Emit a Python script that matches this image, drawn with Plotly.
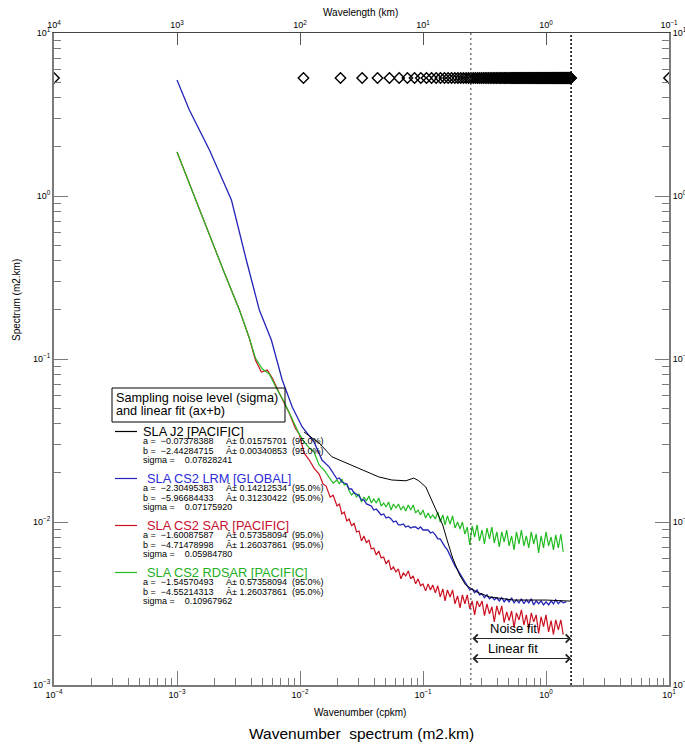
import numpy as np
import plotly.graph_objects as go

# ---------------------------------------------------------------------------
# Wavenumber spectra of sea level anomaly (SLA), J2 vs CryoSat-2 modes
# ---------------------------------------------------------------------------

# Common high-wavenumber sampling (cpkm) used for the CS2 spectra
K_HF = [0.0200, 0.0209, 0.0219, 0.0229, 0.0240, 0.0251, 0.0263, 0.0275, 0.0288, 0.0302,
        0.0316, 0.0331, 0.0347, 0.0363, 0.0380, 0.0398, 0.0417, 0.0437, 0.0457, 0.0479,
        0.0501, 0.0525, 0.0550, 0.0575, 0.0603, 0.0631, 0.0661, 0.0692, 0.0724, 0.0759,
        0.0794, 0.0832, 0.0871, 0.0912, 0.0955, 0.100, 0.105, 0.110, 0.115, 0.120,
        0.126, 0.132, 0.138, 0.145, 0.151, 0.158, 0.166, 0.174, 0.182, 0.191,
        0.200, 0.209, 0.219, 0.229, 0.240, 0.251, 0.263, 0.275, 0.288, 0.302,
        0.316, 0.331, 0.347, 0.363, 0.380, 0.398, 0.417, 0.437, 0.457, 0.479,
        0.501, 0.525, 0.550, 0.575, 0.603, 0.631, 0.661, 0.692, 0.724, 0.759,
        0.794, 0.832, 0.871, 0.912, 0.955, 1.00, 1.05, 1.10, 1.15, 1.20,
        1.26, 1.32, 1.38]

# SLA CS2 SAR [PACIFIC]
SAR_K_LF = [0.001, 0.00152, 0.00243, 0.00322, 0.00387, 0.00434, 0.00485, 0.00542, 0.00595,
            0.00678, 0.00817, 0.00914, 0.00984, 0.0108, 0.0119, 0.0130, 0.0143, 0.0154,
            0.0163, 0.0176, 0.0186]
SAR_S_LF = [1.862, 0.821, 0.337, 0.1999, 0.1345, 0.0986, 0.0832, 0.0857, 0.0764,
            0.0618, 0.0466, 0.0377, 0.0347, 0.0265, 0.0240, 0.0214, 0.0197, 0.0171,
            0.0166, 0.0142, 0.0146]
SAR_S_HF = [0.01254, 0.01290, 0.01120, 0.01152, 0.01015, 0.01044, 0.00945, 0.00986, 0.00869, 0.00881,
            0.00765, 0.00821, 0.00744, 0.00776, 0.00683, 0.00693, 0.00628, 0.00664, 0.00602, 0.00610,
            0.00553, 0.00585, 0.00508, 0.00530, 0.00494, 0.00515, 0.00448, 0.00487, 0.00467, 0.00501,
            0.00448, 0.00467, 0.00417, 0.00448, 0.00406, 0.00417, 0.00378, 0.00417, 0.00383, 0.00411,
            0.00368, 0.00406, 0.00347, 0.00389, 0.00328, 0.00383, 0.00347, 0.00383, 0.00315, 0.00352,
            0.00297, 0.00357, 0.00315, 0.00357, 0.00293, 0.00328, 0.00269, 0.00328, 0.00302, 0.00328,
            0.00266, 0.00315, 0.00273, 0.00302, 0.00244, 0.00306, 0.00269, 0.00306, 0.00241, 0.00281,
            0.00248, 0.00285, 0.00225, 0.00277, 0.00251, 0.00289, 0.00234, 0.00269, 0.00221, 0.00277,
            0.00244, 0.00269, 0.00207, 0.00262, 0.00228, 0.00269, 0.00212, 0.00248, 0.00204, 0.00251,
            0.00218, 0.00251, 0.00204]

# SLA CS2 RDSAR [PACIFIC]
RDSAR_K_LF = [0.001, 0.00152, 0.00243, 0.00322, 0.00387, 0.00434, 0.00494, 0.00563, 0.00641,
              0.00745, 0.00865, 0.00984, 0.0108, 0.0119, 0.0130, 0.0143, 0.0157, 0.0173, 0.0186]
RDSAR_S_LF = [1.862, 0.821, 0.337, 0.1999, 0.1345, 0.1014, 0.0868, 0.0809, 0.0664,
              0.0545, 0.0423, 0.0347, 0.0310, 0.0285, 0.0269, 0.0224, 0.0208, 0.0186, 0.0173]
RDSAR_S_HF = [0.01810, 0.01711, 0.01836, 0.01687, 0.01711, 0.01550, 0.01465, 0.01528, 0.01424, 0.01486,
              0.01327, 0.01424, 0.01346, 0.01444, 0.01308, 0.01384, 0.01308, 0.01404, 0.01254, 0.01308,
              0.01236, 0.01327, 0.01185, 0.01290, 0.01219, 0.01290, 0.01185, 0.01254, 0.01168, 0.01272,
              0.01185, 0.01272, 0.01136, 0.01185, 0.01104, 0.01185, 0.01058, 0.01136, 0.01058, 0.01104,
              0.01044, 0.01152, 0.01000, 0.01104, 0.00959, 0.01089, 0.00972, 0.01089, 0.00919, 0.01000,
              0.00906, 0.01000, 0.00844, 0.00932, 0.00723, 0.00945, 0.00809, 0.00959, 0.00765, 0.00893,
              0.00733, 0.00919, 0.00787, 0.00932, 0.00744, 0.00869, 0.00703, 0.00869, 0.00754, 0.00893,
              0.00713, 0.00821, 0.00674, 0.00869, 0.00733, 0.00893, 0.00713, 0.00821, 0.00693, 0.00869,
              0.00733, 0.00844, 0.00646, 0.00821, 0.00693, 0.00869, 0.00713, 0.00809, 0.00674, 0.00833,
              0.00693, 0.00844, 0.00655]

# SLA CS2 LRM [GLOBAL]
LRM_K_LF = [0.001, 0.00126, 0.00184, 0.00277, 0.00366, 0.00467, 0.00585, 0.00717, 0.00865,
            0.01042, 0.0130, 0.0151, 0.0173]
LRM_S_LF = [5.15, 3.37, 1.91, 0.945, 0.405, 0.200, 0.1308, 0.0743, 0.0508,
            0.0383, 0.0310, 0.0240, 0.0217]
LRM_S_HF = [0.01836, 0.01862, 0.01760, 0.01735, 0.01711, 0.01594, 0.01594, 0.01507, 0.01486, 0.01444,
            0.01365, 0.01365, 0.01290, 0.01272, 0.01254, 0.01185, 0.01202, 0.01152, 0.01104, 0.01120,
            0.01058, 0.01073, 0.01044, 0.01000, 0.01015, 0.00959, 0.00959, 0.00972, 0.00932, 0.00945,
            0.00919, 0.00932, 0.00932, 0.00906, 0.00932, 0.00893, 0.00893, 0.00893, 0.00856, 0.00869,
            0.00833, 0.00787, 0.00787, 0.00733, 0.00703, 0.00674, 0.00619, 0.00577, 0.00538, 0.00508,
            0.00480, 0.00454, 0.00423, 0.00406, 0.00383, 0.00389, 0.00368, 0.00383, 0.00357, 0.00362,
            0.00343, 0.00357, 0.00338, 0.00347, 0.00333, 0.00343, 0.00328, 0.00343, 0.00324, 0.00338,
            0.00324, 0.00343, 0.00319, 0.00333, 0.00319, 0.00338, 0.00315, 0.00333, 0.00319, 0.00338,
            0.00310, 0.00328, 0.00315, 0.00328, 0.00310, 0.00324, 0.00310, 0.00328, 0.00315, 0.00333,
            0.00315, 0.00328, 0.00319]
LRM_K_END = [1.46]
LRM_S_END = [0.00324]

# SLA J2 [PACIFIC]
J2_K = [0.0108, 0.0143, 0.0182, 0.0237, 0.0319, 0.0438, 0.0559, 0.0726, 0.0842, 0.0924,
        0.1054, 0.1156, 0.127, 0.1446, 0.1588, 0.1743, 0.1986, 0.222, 0.273, 0.348,
        0.544, 1.0, 1.6]
J2_S = [0.0356, 0.0305, 0.0251, 0.0230, 0.0208, 0.0189, 0.0181, 0.0179, 0.0186, 0.0179,
        0.0164, 0.0140, 0.0122, 0.00959, 0.00754, 0.00601, 0.00473, 0.00411, 0.00372, 0.00347,
        0.00332, 0.00332, 0.00327]

# J2 along-track wavenumber grid (resolution and number of bins), shown as diamonds
J2_DK = 0.01067
J2_NBINS = 150
GRID_LEVEL = 5.3

# Wavenumber band used for the noise / linear fits (cpkm)
FIT_BAND = [0.245, 1.6]

# Fit parameters printed in the legend block
LEGEND = [
    ("SLA J2 [PACIFIC]", "#000000", "#000000",
     ("\u22120.07378388", "0.01575701"), ("\u22122.44284715", "0.00340853"), "0.07828241"),
    ("SLA CS2 LRM [GLOBAL]", "#2424b8", "#2c2cd6",
     ("\u22122.30495383", "0.14212534"), ("\u22125.96684433", "0.31230422"), "0.07175920"),
    ("SLA CS2 SAR [PACIFIC]", "#cc1020", "#c8102e",
     ("\u22121.60087587", "0.57358094"), ("\u22124.71478998", "1.26037861"), "0.05984780"),
    ("SLA CS2 RDSAR [PACIFIC]", "#22bb22", "#22b022",
     ("\u22121.54570493", "0.57358094"), ("\u22124.55214313", "1.26037861"), "0.10967962"),
]

# ---------------------------------------------------------------------------
FONT = "Liberation Sans, Arial, Helvetica, sans-serif"
W, H = 685, 744
PL, PR, PT, PB = 54, 669, 33, 685   # plot area edges in pixels
AXIS_GREY = "#7a7a7a"
NB = "\u00a0"


def px(x):
    return (x - PL) / (PR - PL)


def py(y):
    return (PB - y) / (PB - PT)


fig = go.Figure()

sar_k = SAR_K_LF + K_HF
sar_s = SAR_S_LF + SAR_S_HF
rdsar_k = RDSAR_K_LF + K_HF
rdsar_s = RDSAR_S_LF + RDSAR_S_HF
lrm_k = LRM_K_LF + K_HF + LRM_K_END
lrm_s = LRM_S_LF + LRM_S_HF + LRM_S_END

fig.add_trace(go.Scatter(x=sar_k, y=sar_s, mode="lines",
                         line=dict(color=LEGEND[2][1], width=1.2)))
fig.add_trace(go.Scatter(x=rdsar_k, y=rdsar_s, mode="lines",
                         line=dict(color=LEGEND[3][1], width=1.2)))
fig.add_trace(go.Scatter(x=lrm_k, y=lrm_s, mode="lines",
                         line=dict(color=LEGEND[1][1], width=1.3)))
fig.add_trace(go.Scatter(x=J2_K, y=J2_S, mode="lines",
                         line=dict(color=LEGEND[0][1], width=1)))

# J2 wavenumber bins
grid_k = J2_DK * np.arange(1, J2_NBINS + 1)
fig.add_trace(go.Scatter(x=grid_k, y=np.full(grid_k.size, GRID_LEVEL), mode="markers",
                         marker=dict(symbol="diamond-open", size=8, color="black",
                                     line=dict(width=1.4, color="black")),
                         cliponaxis=True))
# bin symbols sitting on the frame edges
fig.add_trace(go.Scatter(x=[1e-4, 1e1], y=[GRID_LEVEL, GRID_LEVEL], mode="markers",
                         marker=dict(symbol="diamond-open", size=8, color="black",
                                     line=dict(width=1.4, color="black")),
                         cliponaxis=True))

# fit band limits
fig.add_trace(go.Scatter(x=[FIT_BAND[0], FIT_BAND[0]], y=[1e-3, 1e1], mode="lines",
                         line=dict(color="#333333", width=1, dash="2px,3px")))
fig.add_trace(go.Scatter(x=[FIT_BAND[1], FIT_BAND[1]], y=[1e-3, 1e1], mode="lines",
                         line=dict(color="#111111", width=1.6, dash="2px,2px")))

# carrier trace for the secondary (wavelength / right) axes
fig.add_trace(go.Scatter(x=[1e4, 1e-1], y=[1e1, 1e-3], xaxis="x2", yaxis="y2",
                         mode="markers", marker=dict(opacity=0), hoverinfo="skip"))

# ---------------------------------------------------------------------------
# axes


def sup_label(e):
    s = str(e).replace("-", "\u2212")
    return f"10<sup>{s}</sup>"


x_dec = list(range(-4, 2))
y_dec = list(range(-3, 2))
x_minor = [m * 10.0 ** e for e in range(-4, 1) for m in range(2, 10)]
y_minor = [m * 10.0 ** e for e in range(-3, 1) for m in range(2, 10)]
tickfont = dict(family=FONT, size=9, color="black")

common_y = dict(type="log", range=[-3, 1], tickmode="array",
                tickvals=[10.0 ** e for e in y_dec], ticktext=[sup_label(e) for e in y_dec],
                ticks="inside", ticklen=14, tickwidth=1, tickcolor=AXIS_GREY,
                minor=dict(tickmode="array", tickvals=y_minor, ticks="inside", ticklen=7,
                           tickwidth=1, tickcolor=AXIS_GREY, showgrid=False),
                showline=True, linecolor=AXIS_GREY, linewidth=2, showgrid=False,
                zeroline=False, tickfont=tickfont, automargin=False, anchor="x")

fig.update_layout(
    width=W, height=H,
    margin=dict(l=PL, r=W - PR, t=PT, b=H - PB, pad=0, autoexpand=False),
    paper_bgcolor="white", plot_bgcolor="white",
    showlegend=False,
    font=dict(family=FONT, color="black"),
    xaxis=dict(type="log", range=[-4, 1], tickmode="array",
               tickvals=[10.0 ** e for e in x_dec], ticktext=[sup_label(e) for e in x_dec],
               ticks="inside", ticklen=14, tickwidth=1, tickcolor=AXIS_GREY,
               minor=dict(tickmode="array", tickvals=x_minor, ticks="inside", ticklen=7,
                          tickwidth=1, tickcolor=AXIS_GREY, showgrid=False),
               showline=True, linecolor=AXIS_GREY, linewidth=2, showgrid=False,
               zeroline=False, tickfont=tickfont, anchor="y", automargin=False),
    xaxis2=dict(type="log", range=[4, -1], overlaying="x", side="top", anchor="y",
                tickmode="array", tickvals=[10.0 ** e for e in range(4, -2, -1)],
                ticktext=[sup_label(e) for e in range(4, -2, -1)],
                ticks="inside", ticklen=12, tickwidth=1, tickcolor="#555555",
                showline=True, linecolor="#444444", linewidth=1, showgrid=False,
                zeroline=False, tickfont=tickfont, automargin=False),
    yaxis=common_y,
    yaxis2=dict(common_y, overlaying="y", side="right"),
)

annotations = []
shapes = []


def text(x, y, s, size, color="black", xanchor="left", angle=0):
    annotations.append(dict(x=px(x), y=py(y), xref="paper", yref="paper", text=s,
                            showarrow=False, xanchor=xanchor, yanchor="middle",
                            textangle=angle, borderpad=0,
                            font=dict(family=FONT, size=size, color=color)))


# axis titles
text(360, 12, "Wavelength (km)", 10, xanchor="center")
text(360, 712, "Wavenumber (cpkm)", 10, xanchor="center")
text(361, 733, "Wavenumber  spectrum (m2.km)", 15.5, xanchor="center")
text(16, 300, "Spectrum (m2.km)", 10, xanchor="center", angle=-90)

# legend block
shapes.append(dict(type="rect", xref="paper", yref="paper",
                   x0=px(112), x1=px(285), y0=py(422), y1=py(388),
                   line=dict(color="black", width=1)))
text(115, 398.5, "Sampling noise level (sigma)", 12.7)
text(115, 411.5, "and linear fit (ax+b)", 12.7)

rows_y = [431.5, 478.5, 525.5, 572.5]
for (name, lcol, tcol, (a_v, a_e), (b_v, b_e), sig), y0 in zip(LEGEND, rows_y):
    shapes.append(dict(type="line", xref="paper", yref="paper",
                       x0=px(115), x1=px(137), y0=py(y0), y1=py(y0),
                       line=dict(color=lcol, width=1.2)))
    text(142 if name.startswith("SLA J2") else 145.5, y0, name, 12.8, tcol)
    for dy, lab, val, err in ((9.7, "a =", a_v, a_e), (19.3, "b =", b_v, b_e)):
        line = (lab + NB * 2 + val + NB * 5 + "\u00c2\u00b1" + NB + err
                + NB * 2 + "(95.0%)")
        text(142, y0 + dy, line, 9)
    text(142, y0 + 28.8, "sigma =" + NB * 4 + sig, 9)

# fit band arrows
for y_arrow, label, y_lab in ((638.5, "Noise fit", 628), (658.5, "Linear fit", 648.5)):
    annotations.append(dict(x=np.log10(FIT_BAND[1]), y=py(y_arrow), xref="x", yref="paper",
                            ax=np.log10(FIT_BAND[0]), ay=0, axref="x", ayref="pixel",
                            text="", showarrow=True, arrowside="end+start",
                            arrowhead=4, startarrowhead=4, arrowsize=1.6, startarrowsize=1.6,
                            arrowwidth=1, arrowcolor="#222222"))
    text(513, y_lab, label, 13, xanchor="center")

fig.update_layout(annotations=annotations, shapes=shapes)

fig.write_html("out.html")
